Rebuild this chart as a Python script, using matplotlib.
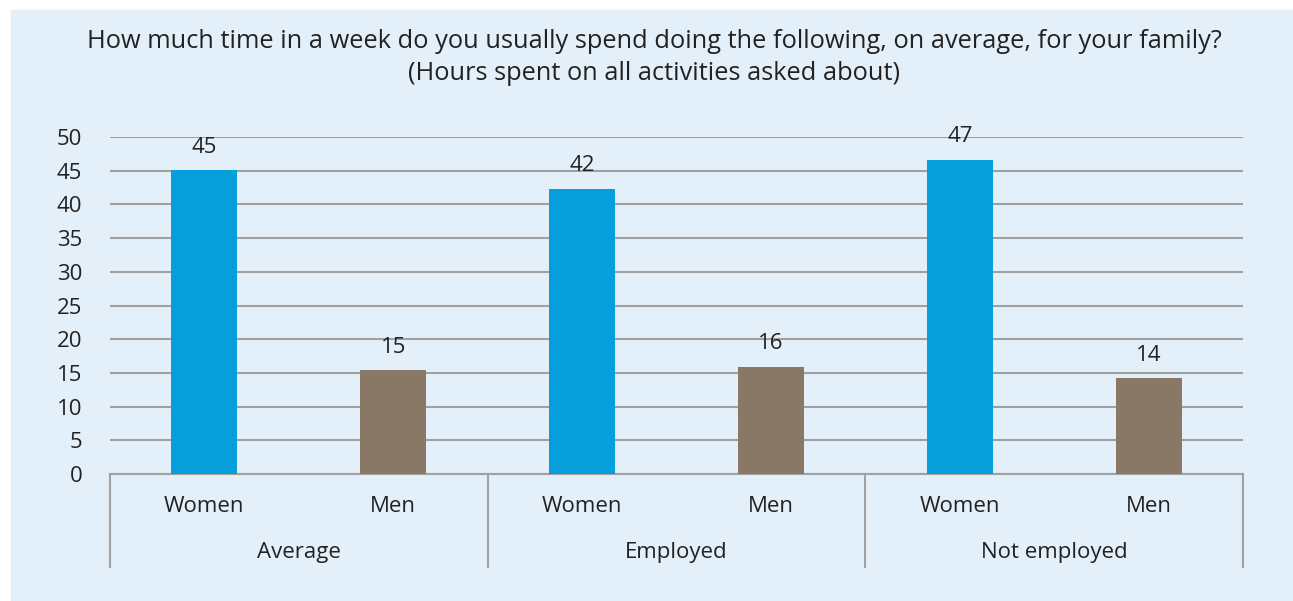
import matplotlib.pyplot as plt
from matplotlib.patches import Rectangle
from matplotlib.lines import Line2D

plt.rcParams['font.family'] = ['Open Sans', 'DejaVu Sans']

groups = ['Average', 'Employed', 'Not employed']
sexes = ['Women', 'Men']
women = [45.1, 42.3, 46.6]
men = [15.4, 15.9, 14.2]
yticks = [0, 5, 10, 15, 20, 25, 30, 35, 40, 45, 50]

blue = '#069fdc'
brown = '#8a7866'
panel = '#e4f0f9'
grey = '#a0a0a0'
W, H = 1293, 601

fig = plt.figure(figsize=(W / 100, H / 100), dpi=100)
fig.patches.append(Rectangle((11 / W, 0), 1 - 11 / W, 1 - 10 / H,
                             transform=fig.transFigure, color=panel, zorder=-5))

ax = fig.add_axes([110 / W, 1 - 474 / H, (1243 - 110) / W, (474 - 137) / H])
ax.set_facecolor('none')

xs, vals, cols = [], [], []
for i in range(len(groups)):
    xs += [2 * i, 2 * i + 1]
    vals += [women[i], men[i]]
    cols += [blue, brown]

ax.bar(xs, vals, width=0.35, color=cols, zorder=3)
for x, v in zip(xs, vals):
    ax.annotate(f'{v:.0f}', (x, v), xytext=(0, 9), textcoords='offset points',
                ha='center', va='bottom', fontsize=16, color='#222222')

ax.set_xlim(-0.5, 5.5)
ax.set_ylim(0, 50)
ax.set_yticks(yticks)
ax.tick_params(axis='y', length=0, labelsize=16, labelcolor='#222222', pad=20)
ax.set_xticks([])
ax.yaxis.grid(True, color=grey, linewidth=1.5, zorder=1)
for s in ['left', 'right', 'top']:
    ax.spines[s].set_visible(False)
ax.spines['bottom'].set_color(grey)
ax.spines['bottom'].set_linewidth(1.5)

# two-tier category axis
for x in xs:
    ax.text(x, -4.8, sexes[x % 2], ha='center', va='center', fontsize=16,
            color='#222222')
for i, g in enumerate(groups):
    ax.text(2 * i + 0.5, -11.7, g, ha='center', va='center', fontsize=16,
            color='#222222')
for b in [-0.5, 1.5, 3.5, 5.5]:
    ax.add_line(Line2D([b, b], [0, -13.8], color=grey, linewidth=1.5,
                       clip_on=False))

fig.text(654 / W, 1 - 41 / H,
         'How much time in a week do you usually spend doing the following, on average, for your family?',
         ha='center', va='center', fontsize=18.3, color='#222222')
fig.text(654 / W, 1 - 74 / H, '(Hours spent on all activities asked about)',
         ha='center', va='center', fontsize=18.3, color='#222222')

fig.savefig('out.png', dpi=100)
